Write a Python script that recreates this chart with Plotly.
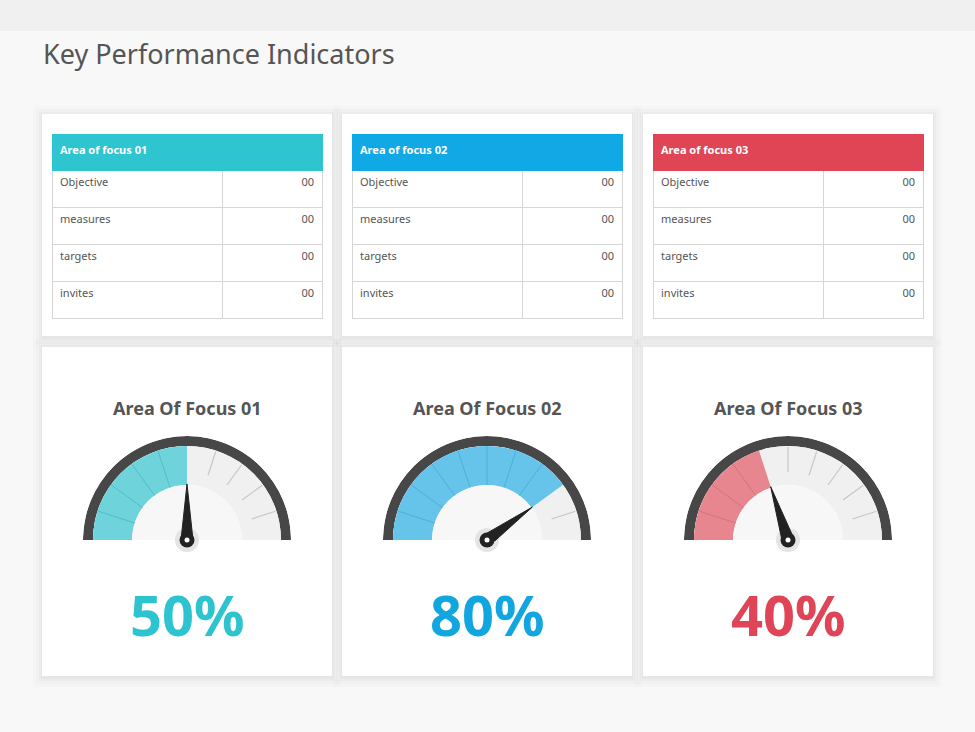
import math
import plotly.graph_objects as go

W, H = 975, 732

# ---------------- data ----------------
page_title = "Key Performance Indicators"
table_headers = ["Area of focus 01", "Area of focus 02", "Area of focus 03"]
row_labels = ["Objective", "measures", "targets", "invites"]
row_values_1 = ["00", "00", "00", "00"]
row_values_2 = ["00", "00", "00", "00"]
row_values_3 = ["00", "00", "00", "00"]
gauge_titles = ["Area Of Focus 01", "Area Of Focus 02", "Area Of Focus 03"]
percents = [50, 80, 40]
n_segments = 10

# ---------------- style ----------------
header_colors = ["#2ec5d0", "#10a8e5", "#e04555"]
fill_colors = ["#6fd3dc", "#66c4ea", "#e8868f"]
sep_colors = ["#52bcc6", "#4eaed8", "#d5727b"]
text_colors = ["#2ec4cf", "#12a6e1", "#df4556"]
font_family = "Noto Sans"

card_x0 = [42, 342, 643]
card_w = 290
R = 104          # gauge outer radius (px)
base_y = 540     # gauge baseline (px)
low = math.sin(math.radians(10))


def fx(px):
    return px / W


def fy(py):
    return 1 - py / H


fig = go.Figure()

# ---------------- tables ----------------
all_values = [row_values_1, row_values_2, row_values_3]
for i in range(3):
    x0 = card_x0[i] + 10
    fig.add_trace(go.Table(
        domain=dict(x=[fx(x0), fx(x0 + 270)], y=[fy(319), fy(134)]),
        columnwidth=[170, 100],
        header=dict(
            values=[f"<b>{table_headers[i]}</b>", ""],
            fill_color=header_colors[i],
            line=dict(color=header_colors[i], width=1),
            align="left",
            height=36,
            font=dict(color="white", size=11, family=font_family),
        ),
        cells=dict(
            values=[row_labels, all_values[i]],
            fill_color="white",
            line=dict(color="#d6d6d6", width=1),
            align=["left", "right"],
            height=37,
            font=dict(color="#555555", size=11, family=font_family),
        ),
    ))

# ---------------- gauges ----------------
seg_w = 180 / n_segments
for i in range(3):
    sp = "polar" if i == 0 else f"polar{i + 1}"
    v = percents[i] * 180 / 100
    # outer dark ring
    fig.add_trace(go.Barpolar(subplot=sp, r=[R - 94], base=[94], theta=[90], width=[180],
                              marker=dict(color="#474747", line=dict(width=0)), hoverinfo="skip"))
    # empty band
    fig.add_trace(go.Barpolar(subplot=sp, r=[39], base=[55], theta=[90], width=[180],
                              marker=dict(color="#f0f0f0", line=dict(width=0)), hoverinfo="skip"))
    # filled band
    fig.add_trace(go.Barpolar(subplot=sp, r=[39], base=[55], theta=[v / 2], width=[v],
                              marker=dict(color=fill_colors[i], line=dict(width=0)), hoverinfo="skip"))
    # inner disc
    fig.add_trace(go.Barpolar(subplot=sp, r=[55], base=[0], theta=[90], width=[180],
                              marker=dict(color="#f7f7f7", line=dict(width=0)), hoverinfo="skip"))
    # separators
    fr, ft, er, et = [], [], [], []
    for k in range(1, n_segments):
        t = k * seg_w
        if t < v - 0.01:
            fr += [55, 94, None]
            ft += [t, t, None]
        elif t > v + 0.01:
            er += [68, 93, None]
            et += [t, t, None]
    fig.add_trace(go.Scatterpolar(subplot=sp, r=fr, theta=ft, mode="lines",
                                  line=dict(color=sep_colors[i], width=1), hoverinfo="skip"))
    fig.add_trace(go.Scatterpolar(subplot=sp, r=er, theta=et, mode="lines",
                                  line=dict(color="#c6c6c6", width=1.2), hoverinfo="skip"))
    # pivot halo
    fig.add_trace(go.Scatterpolar(subplot=sp, r=[0], theta=[0], mode="markers", cliponaxis=False,
                                  marker=dict(size=24, color="#e4e4e4"), hoverinfo="skip"))
    # needle
    fig.add_trace(go.Scatterpolar(subplot=sp, r=[56, 6, 6, 56], theta=[v, v + 90, v - 90, v],
                                  mode="lines", fill="toself", fillcolor="#222222",
                                  line=dict(color="#222222", width=1), hoverinfo="skip"))
    fig.add_trace(go.Scatterpolar(subplot=sp, r=[0], theta=[0], mode="markers", cliponaxis=False,
                                  marker=dict(size=15, color="#222222"), hoverinfo="skip"))
    fig.add_trace(go.Scatterpolar(subplot=sp, r=[0], theta=[0], mode="markers", cliponaxis=False,
                                  marker=dict(size=5, color="white"), hoverinfo="skip"))

    cx = card_x0[i] + card_w / 2
    fig.update_layout(**{sp: dict(
        domain=dict(x=[fx(cx - R), fx(cx + R)], y=[fy(base_y + R * low), fy(base_y - R)]),
        sector=[-10, 190],
        bgcolor="rgba(0,0,0,0)",
        radialaxis=dict(visible=False, range=[0, R], showgrid=False, showline=False),
        angularaxis=dict(visible=False, direction="clockwise", rotation=180,
                         showgrid=False, showline=False, showticklabels=False, ticks=""),
    )})

    fig.add_annotation(x=fx(cx), y=fy(408), xref="paper", yref="paper", text=f"<b>{gauge_titles[i]}</b>",
                       showarrow=False, font=dict(size=18, color="#555555", family=font_family),
                       xanchor="center", yanchor="middle")
    fig.add_annotation(x=fx(cx), y=fy(614), xref="paper", yref="paper", text=f"<b>{percents[i]}%</b>",
                       showarrow=False, font=dict(size=56, color=text_colors[i], family=font_family),
                       xanchor="center", yanchor="middle")

# ---------------- background / cards ----------------
shapes = [dict(type="rect", xref="paper", yref="paper", x0=0, x1=1, y0=fy(31), y1=1,
               fillcolor="#f0f0f0", line=dict(width=0), layer="below")]
for x0 in card_x0:
    for (y0, y1) in [(114, 336), (347, 676)]:
        for grow, op in [(9, 0.012), (6, 0.015), (3, 0.02), (1, 0.025)]:
            shapes.append(dict(type="rect", xref="paper", yref="paper",
                               x0=fx(x0 - grow), x1=fx(x0 + card_w + grow),
                               y0=fy(y1 + grow + 2), y1=fy(y0 - grow + 1),
                               fillcolor="#000000", opacity=op, line=dict(width=0), layer="below"))
        shapes.append(dict(type="rect", xref="paper", yref="paper",
                           x0=fx(x0), x1=fx(x0 + card_w), y0=fy(y1), y1=fy(y0),
                           fillcolor="white", line=dict(width=0), layer="below"))

fig.add_annotation(x=fx(41), y=fy(53), xref="paper", yref="paper", text=page_title,
                   showarrow=False, font=dict(size=27, color="#555555", family=font_family),
                   xanchor="left", yanchor="middle")

fig.update_layout(
    width=W, height=H,
    margin=dict(l=0, r=0, t=0, b=0),
    paper_bgcolor="#f8f8f8",
    plot_bgcolor="#f8f8f8",
    showlegend=False,
    shapes=shapes,
)

fig.write_html("out.html", config={"displayModeBar": False},
               post_script="document.body.style.margin='0';")
